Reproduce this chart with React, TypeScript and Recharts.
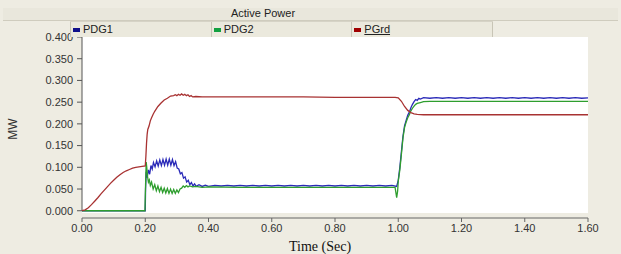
import { LineChart, Line, XAxis, YAxis, ReferenceArea, ReferenceLine } from "recharts"

// [time (s), MW]
const pdg1: [number, number][] = [
  [0, 0], [0.2, 0], [0.201, 0.05], [0.203, 0.09], [0.206, 0.076], [0.21, 0.094], [0.214, 0.084],
  [0.218, 0.104], [0.222, 0.096], [0.226, 0.111], [0.231, 0.101], [0.236, 0.115], [0.241, 0.103],
  [0.246, 0.117], [0.251, 0.104], [0.256, 0.118], [0.261, 0.105], [0.266, 0.119], [0.271, 0.105],
  [0.276, 0.119], [0.281, 0.105], [0.286, 0.118], [0.291, 0.104], [0.296, 0.113], [0.301, 0.098],
  [0.306, 0.096], [0.311, 0.085], [0.316, 0.088], [0.321, 0.075], [0.326, 0.078], [0.331, 0.066],
  [0.336, 0.07], [0.341, 0.06], [0.346, 0.065], [0.351, 0.057], [0.356, 0.062], [0.361, 0.056],
  [0.37, 0.06], [0.38, 0.056], [0.39, 0.059], [0.4, 0.056], [0.42, 0.0585], [0.44, 0.057],
  [0.46, 0.0585], [0.48, 0.057], [0.5, 0.0585], [0.52, 0.057], [0.54, 0.0585], [0.56, 0.057],
  [0.58, 0.0585], [0.6, 0.057], [0.62, 0.0585], [0.64, 0.057], [0.66, 0.0585], [0.68, 0.057],
  [0.7, 0.0585], [0.72, 0.057], [0.74, 0.0585], [0.76, 0.057], [0.78, 0.0585], [0.8, 0.057],
  [0.82, 0.0585], [0.84, 0.057], [0.86, 0.0585], [0.88, 0.057], [0.9, 0.0585], [0.92, 0.057],
  [0.94, 0.0585], [0.96, 0.057], [0.98, 0.0585], [0.995, 0.056], [1.0, 0.07], [1.005, 0.1],
  [1.01, 0.136], [1.015, 0.172], [1.02, 0.196], [1.025, 0.208], [1.03, 0.22], [1.035, 0.227],
  [1.04, 0.237], [1.045, 0.245], [1.05, 0.251], [1.055, 0.256], [1.06, 0.254], [1.065, 0.259],
  [1.07, 0.257], [1.08, 0.2605], [1.1, 0.259], [1.12, 0.2605], [1.14, 0.259], [1.16, 0.2605],
  [1.18, 0.259], [1.2, 0.2605], [1.22, 0.259], [1.24, 0.2605], [1.26, 0.259], [1.28, 0.2605],
  [1.3, 0.259], [1.32, 0.2605], [1.34, 0.259], [1.36, 0.2605], [1.38, 0.259], [1.4, 0.2605],
  [1.42, 0.259], [1.44, 0.2605], [1.46, 0.259], [1.48, 0.2605], [1.5, 0.259], [1.52, 0.2605],
  [1.54, 0.259], [1.56, 0.2605], [1.58, 0.259], [1.6, 0.26],
]

const pdg2: [number, number][] = [
  [0, 0], [0.199, 0], [0.201, 0.06], [0.203, 0.112], [0.205, 0.098], [0.207, 0.08], [0.21, 0.066],
  [0.213, 0.071], [0.216, 0.058], [0.22, 0.066], [0.225, 0.05], [0.23, 0.06], [0.235, 0.046],
  [0.24, 0.057], [0.245, 0.044], [0.25, 0.054], [0.255, 0.042], [0.26, 0.052], [0.265, 0.041],
  [0.27, 0.051], [0.275, 0.04], [0.28, 0.05], [0.285, 0.04], [0.29, 0.049], [0.295, 0.04],
  [0.3, 0.048], [0.305, 0.042], [0.31, 0.05], [0.315, 0.052], [0.32, 0.057], [0.325, 0.054],
  [0.33, 0.058], [0.335, 0.055], [0.34, 0.057], [0.35, 0.055], [0.36, 0.056], [0.38, 0.054],
  [0.4, 0.055], [0.5, 0.054], [0.6, 0.054], [0.7, 0.054], [0.8, 0.054], [0.9, 0.054],
  [0.99, 0.054], [0.995, 0.03], [0.998, 0.045], [1.0, 0.068], [1.005, 0.094], [1.01, 0.13],
  [1.015, 0.168], [1.02, 0.192], [1.025, 0.204], [1.03, 0.214], [1.035, 0.221], [1.04, 0.23],
  [1.045, 0.236], [1.05, 0.241], [1.055, 0.245], [1.06, 0.247], [1.07, 0.249], [1.08, 0.251],
  [1.1, 0.252], [1.2, 0.252], [1.3, 0.252], [1.4, 0.252], [1.5, 0.252], [1.6, 0.252],
]

const pgrd: [number, number][] = [
  [0, 0], [0.01, 0.002], [0.02, 0.007], [0.03, 0.014], [0.04, 0.022], [0.05, 0.03], [0.06, 0.039],
  [0.07, 0.047], [0.08, 0.055], [0.09, 0.063], [0.1, 0.07], [0.11, 0.077], [0.12, 0.083],
  [0.13, 0.088], [0.14, 0.092], [0.15, 0.095], [0.16, 0.098], [0.17, 0.1], [0.18, 0.101],
  [0.19, 0.102], [0.2, 0.103], [0.202, 0.125], [0.204, 0.155], [0.206, 0.176], [0.208, 0.187],
  [0.212, 0.195], [0.216, 0.207], [0.22, 0.214], [0.225, 0.222], [0.23, 0.229], [0.24, 0.24],
  [0.25, 0.248], [0.26, 0.255], [0.27, 0.259], [0.28, 0.264], [0.29, 0.265], [0.295, 0.267],
  [0.3, 0.265], [0.305, 0.268], [0.31, 0.266], [0.315, 0.269], [0.32, 0.266], [0.325, 0.268],
  [0.33, 0.265], [0.335, 0.267], [0.34, 0.263], [0.345, 0.265], [0.35, 0.262], [0.36, 0.263],
  [0.38, 0.262], [0.4, 0.262], [0.5, 0.262], [0.6, 0.262], [0.7, 0.262], [0.8, 0.261],
  [0.9, 0.261], [0.99, 0.261], [1.0, 0.26], [1.01, 0.252], [1.02, 0.24], [1.03, 0.231],
  [1.04, 0.226], [1.05, 0.223], [1.06, 0.222], [1.08, 0.221], [1.2, 0.221], [1.3, 0.221],
  [1.4, 0.221], [1.5, 0.221], [1.6, 0.221],
]

const xTicks = [0, 0.2, 0.4, 0.6, 0.8, 1.0, 1.2, 1.4, 1.6]
const yTicks = [0, 0.05, 0.1, 0.15, 0.2, 0.25, 0.3, 0.35, 0.4]

const series = [
  { key: "PDG1", data: pdg1, color: "#2a2ab8", swatch: "#10108a" },
  { key: "PDG2", data: pdg2, color: "#2e9e2e", swatch: "#12a040" },
  { key: "PGrd", data: pgrd, color: "#a83232", swatch: "#a00000" },
]

const BG = "#eeece2"
const FONT = "'Liberation Sans', Arial, sans-serif"

const toRows = (pts: [number, number][]) => pts.map(([t, v]) => ({ t, v }))

export default function App() {
  return (
    <div
      style={{
        position: "absolute",
        left: 0,
        top: 0,
        width: 621,
        height: 254,
        background: BG,
        fontFamily: FONT,
        overflow: "hidden",
      }}
    >
      <LineChart
        width={621}
        height={254}
        margin={{ top: 37, right: 33, bottom: 6, left: 0 }}
        style={{ position: "absolute", left: 0, top: 0 }}
      >
        <XAxis
          type="number"
          dataKey="t"
          domain={[0, 1.6]}
          ticks={xTicks}
          tickFormatter={(v) => v.toFixed(2)}
          height={30}
          tickSize={4}
          tickMargin={2}
          stroke="#666"
          tick={{ fontSize: 11, fill: "#333", fontFamily: FONT }}
          allowDuplicatedCategory={false}
        />
        <YAxis
          type="number"
          domain={[-0.0167, 0.4]}
          ticks={yTicks}
          tickFormatter={(v) => v.toFixed(3)}
          width={82}
          tickSize={5}
          tickMargin={4}
          axisLine={false}
          allowDataOverflow
          tickLine={{ stroke: "#555" }}
          tick={{ fontSize: 11, fill: "#333", fontFamily: FONT }}
        />
        <ReferenceArea x1={0} x2={1.6} y1={-0.005} y2={0.4} fill="#ffffff" fillOpacity={1} stroke="none" />
        <ReferenceLine
          segment={[
            { x: 0, y: 0 },
            { x: 0, y: 0.4 },
          ]}
          stroke="#555"
        />
        {series.map((s) => (
          <Line
            key={s.key}
            data={toRows(s.data)}
            dataKey="v"
            name={s.key}
            type="linear"
            stroke={s.color}
            strokeWidth={1.3}
            dot={false}
            isAnimationActive={false}
          />
        ))}
      </LineChart>

      {/* title bar */}
      <div
        style={{
          position: "absolute",
          left: 3,
          top: 8,
          width: 615,
          height: 12,
          background: "#e9e7dc",
          borderBottom: "1px solid #cfccbe",
        }}
      />
      <div
        style={{
          position: "absolute",
          left: 203,
          top: 7,
          width: 120,
          textAlign: "center",
          fontSize: 11,
          color: "#222",
        }}
      >
        Active Power
      </div>

      {/* legend header */}
      <div
        style={{
          position: "absolute",
          left: 70,
          top: 21,
          width: 423,
          height: 15,
          display: "flex",
          borderTop: "1px solid #d6d3c6",
          background: "#ebe9dd",
        }}
      >
        {series.map((s, i) => (
          <div
            key={s.key}
            style={{
              flex: 1,
              position: "relative",
              borderLeft: "1px solid #c8c5b6",
              borderRight: i === series.length - 1 ? "1px solid #c8c5b6" : "none",
              fontSize: 11,
              color: "#222",
              lineHeight: "15px",
            }}
          >
            <span
              style={{
                position: "absolute",
                left: 2,
                top: 6,
                width: 7,
                height: 4,
                background: s.swatch,
              }}
            />
            <span
              style={{
                position: "absolute",
                left: 12,
                top: 0,
                textDecoration: s.key === "PGrd" ? "underline" : "none",
              }}
            >
              {s.key}
            </span>
          </div>
        ))}
      </div>

      {/* axis titles */}
      <div
        style={{
          position: "absolute",
          left: 2,
          top: 122,
          fontSize: 12,
          color: "#333",
          transform: "rotate(-90deg)",
          transformOrigin: "center",
        }}
      >
        MW
      </div>
      <div
        style={{
          position: "absolute",
          left: 260,
          top: 239,
          width: 120,
          textAlign: "center",
          fontSize: 14,
          color: "#111",
          fontFamily: "'Liberation Serif', 'Times New Roman', serif",
        }}
      >
        Time (Sec)
      </div>
    </div>
  )
}
